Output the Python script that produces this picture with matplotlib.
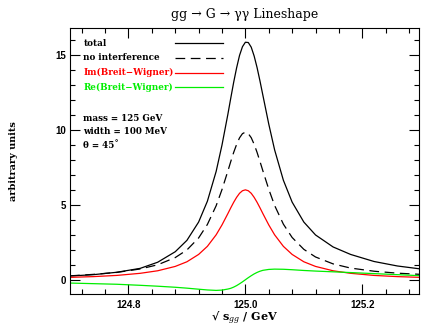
import matplotlib
matplotlib.use("Agg")
import matplotlib.pyplot as plt
from matplotlib.ticker import MultipleLocator, FormatStrFormatter

plt.rcParams["lines.scale_dashes"] = False
plt.rcParams["mathtext.fontset"] = "dejavuserif"

# sqrt(s_gg) in GeV
sqrt_s = [124.70, 124.74, 124.78, 124.82, 124.85, 124.88, 124.90, 124.92, 124.935,
          124.95, 124.96, 124.97, 124.975, 124.98, 124.985, 124.99, 124.995, 125.00,
          125.005, 125.01, 125.015, 125.02, 125.025, 125.03, 125.04, 125.05, 125.065,
          125.08, 125.10, 125.12, 125.15, 125.18, 125.22, 125.26, 125.30]

total = [0.25, 0.34, 0.50, 0.76, 1.17, 1.87, 2.63, 3.85, 5.24,
         7.23, 8.99, 11.03, 12.12, 13.18, 14.14, 14.97, 15.55, 15.85,
         15.83, 15.52, 14.93, 14.16, 13.26, 12.30, 10.39, 8.67, 6.64,
         5.18, 3.85, 2.99, 2.19, 1.69, 1.22, 0.92, 0.72]

no_interference = [0.26, 0.36, 0.49, 0.72, 1.00, 1.48, 1.99, 2.79, 3.69,
                   4.94, 6.02, 7.25, 7.89, 8.50, 9.03, 9.47, 9.75, 9.85,
                   9.75, 9.48, 9.04, 8.50, 7.89, 7.26, 6.04, 4.96, 3.71,
                   2.82, 2.03, 1.52, 1.06, 0.78, 0.57, 0.44, 0.36]

im_bw = [0.16, 0.21, 0.29, 0.43, 0.60, 0.89, 1.20, 1.69, 2.23,
         3.00, 3.66, 4.41, 4.80, 5.17, 5.50, 5.77, 5.94, 6.00,
         5.94, 5.77, 5.50, 5.17, 4.80, 4.41, 3.66, 3.00, 2.23,
         1.69, 1.20, 0.89, 0.60, 0.43, 0.29, 0.21, 0.16]

re_bw = [-0.22, -0.26, -0.30, -0.37, -0.43, -0.50, -0.56, -0.63, -0.68,
         -0.71, -0.69, -0.62, -0.57, -0.49, -0.39, -0.27, -0.14, 0.00,
         0.14, 0.27, 0.39, 0.49, 0.57, 0.63, 0.69, 0.71, 0.70,
         0.67, 0.62, 0.58, 0.53, 0.48, 0.41, 0.34, 0.27]

series_labels = ["total", "no interference", "Im(Breit\u2212Wigner)", "Re(Breit\u2212Wigner)"]
series_colors = ["black", "black", "#ff0000", "#00ee00"]
series_styles = ["solid", "dashed", "solid", "solid"]
info_lines = ["mass = 125 GeV", "width = 100 MeV", "\u03b8 = 45\u02da"]

fig = plt.figure(figsize=(4.22, 3.26), dpi=100)
ax = fig.add_axes([70 / 422, 1 - 294 / 326, 349 / 422, 266 / 326])

serif = "DejaVu Serif"
dash = (7, 4)

for ys, c, ls in zip([total, no_interference, im_bw, re_bw], series_colors, series_styles):
    line, = ax.plot(sqrt_s, ys, color=c, lw=0.9)
    if ls == "dashed":
        line.set_dashes(dash)

ax.set_xlim(124.7, 125.297)
ax.set_ylim(-0.95, 16.8)

# legend drawn by hand in data coordinates
legend_y = [15.78, 14.8, 13.83, 12.86]
for lbl, c, ls, yy in zip(series_labels, series_colors, series_styles, legend_y):
    ax.text(124.723, yy, lbl, color=c, fontsize=6.3, family=serif,
            fontweight="bold", va="center", ha="left")
    seg, = ax.plot([124.879, 124.961], [yy, yy], color=c, lw=0.9)
    if ls == "dashed":
        seg.set_dashes(dash)

for txt, yy in zip(info_lines, [10.78, 9.88, 8.93]):
    ax.text(124.723, yy, txt, color="black", fontsize=6.3, family=serif,
            fontweight="bold", va="center", ha="left")

ax.xaxis.set_major_locator(MultipleLocator(0.2))
ax.xaxis.set_minor_locator(MultipleLocator(0.04))
ax.yaxis.set_major_locator(MultipleLocator(5))
ax.yaxis.set_minor_locator(MultipleLocator(1))
ax.xaxis.set_major_formatter(FormatStrFormatter("%.1f"))
ax.yaxis.set_major_formatter(FormatStrFormatter("%d"))

ax.tick_params(which="both", direction="in", top=True, right=True, width=0.8)
ax.tick_params(which="major", length=7)
ax.tick_params(which="minor", length=3.5)
ax.tick_params(axis="x", which="major", pad=4)
ax.tick_params(axis="y", which="major", pad=3)
for lab in ax.get_xticklabels() + ax.get_yticklabels():
    lab.set_family("Liberation Sans")
    lab.set_fontweight("bold")
    lab.set_fontsize(7)

for sp in ax.spines.values():
    sp.set_linewidth(0.8)

ax.set_xlabel("\u221a s$_{gg}$ / GeV", family=serif, fontweight="bold", fontsize=8, labelpad=0)
ax.set_ylabel("arbitrary units", family=serif, fontweight="bold", fontsize=7, labelpad=27)
ax.set_title("gg \u2192 G \u2192 \u03b3\u03b3 Lineshape", family=serif, fontsize=9, pad=7)

fig.savefig("out.png", dpi=100)
